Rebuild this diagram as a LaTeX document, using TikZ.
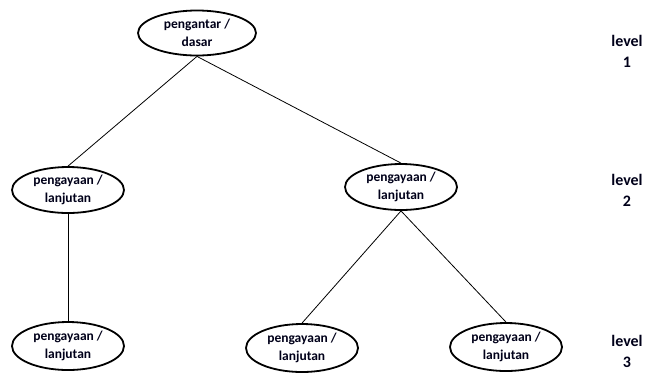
\documentclass[tikz,border=0pt]{standalone}
\usepackage{fontspec}
\setmainfont{Carlito}
\usetikzlibrary{shapes.geometric}
\tikzset{
  topic/.style={ellipse, draw, line width=1.8pt, inner sep=0pt,
    minimum width=112pt, minimum height=46pt, align=center,
    font=\fontsize{13.5}{18}\selectfont\bfseries, text=black!90!blue},
  lvl/.style={align=center, font=\fontsize{16}{21}\selectfont\bfseries, text=black!90!blue},
  link/.style={line width=0.8pt}
}
\begin{document}
\begin{tikzpicture}[x=1pt,y=-1pt]
\useasboundingbox (0,0) rectangle (647,376);
\node[topic, minimum width=118pt, minimum height=45pt] (top) at (197,33) {pengantar /\\dasar};
\node[topic] (l2a) at (68,190) {pengayaan /\\lanjutan};
\node[topic] (l2b) at (401,187) {pengayaan /\\lanjutan};
\node[topic, minimum height=48pt] (l3a) at (68,346) {pengayaan /\\lanjutan};
\node[topic, minimum height=48pt] (l3b) at (302,348) {pengayaan /\\lanjutan};
\node[topic, minimum height=48pt] (l3c) at (506,347) {pengayaan /\\lanjutan};
\node[lvl] (v1) at (627,51) {level\\1};
\node[lvl] (v2) at (627,190) {level\\2};
\node[lvl] (v3) at (627,351) {level\\3};
\draw[link] (top.south) -- (l2a.north);
\draw[link] (top.south) -- (l2b.north);
\draw[link] (l2a.south) -- (l3a.north);
\draw[link] (l2b.south) -- (l3b.north);
\draw[link] (l2b.south) -- (l3c.north);
\end{tikzpicture}
\end{document}
